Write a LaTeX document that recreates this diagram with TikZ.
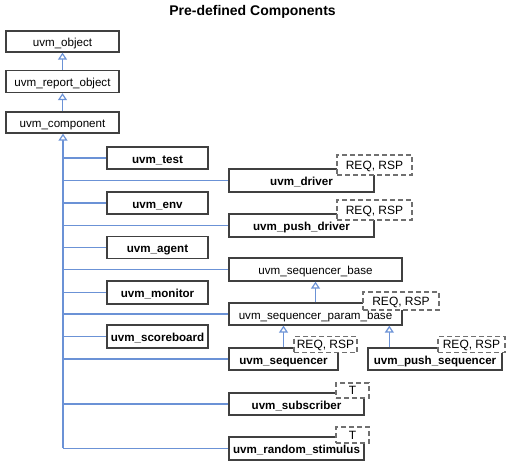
\documentclass[tikz,border=0pt]{standalone}
\usepackage{fontspec}
\setmainfont{Liberation Sans}
\usetikzlibrary{arrows.meta,calc}
\definecolor{conncol}{HTML}{6B92D6}
\definecolor{boxcol}{HTML}{404040}
\definecolor{tplcol}{HTML}{707070}
\begin{document}
\begin{tikzpicture}[x=1pt,y=-1pt,
  box/.style={draw=boxcol,line width=1.3pt,fill=white,inner sep=0pt,text height=10pt,text depth=0pt,font=\fontsize{11.6}{13}\selectfont},
  bbox/.style={box,font=\fontsize{11.6}{13}\selectfont\bfseries},
  tpl/.style={draw=tplcol,line width=1.3pt,dash pattern=on 5pt off 3pt,fill=white,inner sep=0pt,text height=8.6pt,text depth=0pt,font=\fontsize{12}{14}\selectfont},
  conn/.style={draw=conncol,line width=1.2pt},
  inh/.style={conn,-{Triangle[fill=white,length=7pt,width=9pt]}}]
\useasboundingbox (0,0) rectangle (513,466);
\node[font=\fontsize{14}{16}\selectfont\bfseries] (title) at (252.5,12) {Pre-defined Components};
% top chain
\node[box,minimum width=113pt,minimum height=21pt] (obj) at (62.5,41.5) {uvm\_object};
\node[box,minimum width=113pt,minimum height=22pt] (rep) at (62.5,81.5) {uvm\_report\_object};
\node[box,minimum width=113pt,minimum height=21pt] (comp) at (62.5,122.5) {uvm\_component};
% trunk coordinate
\coordinate (trunkend) at (63,448);
% connectors
\draw[inh] (rep.north) -- (obj.south);
\draw[inh] (comp.north) -- (rep.south);
\draw[inh] (trunkend) -- (trunkend |- comp.south);
% left column boxes
\node[bbox,minimum width=101pt,minimum height=22pt] (test) at (157.5,158) {uvm\_test};
\node[bbox,minimum width=101pt,minimum height=22pt] (env) at (157.5,203) {uvm\_env};
\node[bbox,minimum width=101pt,minimum height=22pt] (agent) at (157.5,247.5) {uvm\_agent};
\node[bbox,minimum width=101pt,minimum height=23pt] (monitor) at (157.5,292.5) {uvm\_monitor};
\node[bbox,minimum width=101pt,minimum height=23pt] (scoreboard) at (157.5,336.5) {uvm\_scoreboard};
% right column boxes
\node[bbox,minimum width=145pt,minimum height=23pt] (driver) at (301.5,180.5) {uvm\_driver};
\node[bbox,minimum width=145pt,minimum height=23pt] (pushdriver) at (301.5,225.5) {uvm\_push\_driver};
\node[box,minimum width=173pt,minimum height=23pt] (seqbase) at (315.5,269.5) {uvm\_sequencer\_base};
\node[box,minimum width=173pt,minimum height=22pt] (parambase) at (315.5,314) {uvm\_sequencer\_param\_base};
\node[bbox,minimum width=109pt,minimum height=22pt] (sequencer) at (283.5,359) {uvm\_sequencer};
\node[bbox,minimum width=134pt,minimum height=22pt] (pushseq) at (435,359) {uvm\_push\_sequencer};
\node[bbox,minimum width=135pt,minimum height=22pt] (subscriber) at (296.5,404) {uvm\_subscriber};
\node[bbox,minimum width=135pt,minimum height=23pt] (random) at (296.5,448.5) {uvm\_random\_stimulus};
% branches
\foreach \n in {test,env,agent,monitor,scoreboard,driver,pushdriver,seqbase,parambase,sequencer,subscriber,random}
  \draw[conn] (trunkend |- \n.west) -- (\n.west);
% inheritance among sequencers
\coordinate (psarrow) at ([xshift=22pt]pushseq.north west);
\draw[inh] (parambase.north) -- (seqbase.south);
\draw[inh] (sequencer.north) -- (sequencer.north |- parambase.south);
\draw[inh] (psarrow) -- (psarrow |- parambase.south);
% template boxes
\node[tpl,minimum width=75pt,minimum height=20pt] (drvT) at (374.5,165) {REQ, RSP};
\node[tpl,minimum width=75pt,minimum height=20pt] (pdrvT) at (374.5,210) {REQ, RSP};
\node[tpl,minimum width=76pt,minimum height=18pt] (paramT) at (401,301) {REQ, RSP};
\node[tpl,minimum width=63pt,minimum height=16pt] (seqT) at (325.5,344.5) {REQ, RSP};
\node[tpl,minimum width=67pt,minimum height=16pt] (pseqT) at (471.5,344.5) {REQ, RSP};
\node[tpl,minimum width=33pt,minimum height=15pt] (subT) at (352.5,390.5) {T};
\node[tpl,minimum width=33pt,minimum height=16pt] (randT) at (352.5,435) {T};
\end{tikzpicture}
\end{document}
